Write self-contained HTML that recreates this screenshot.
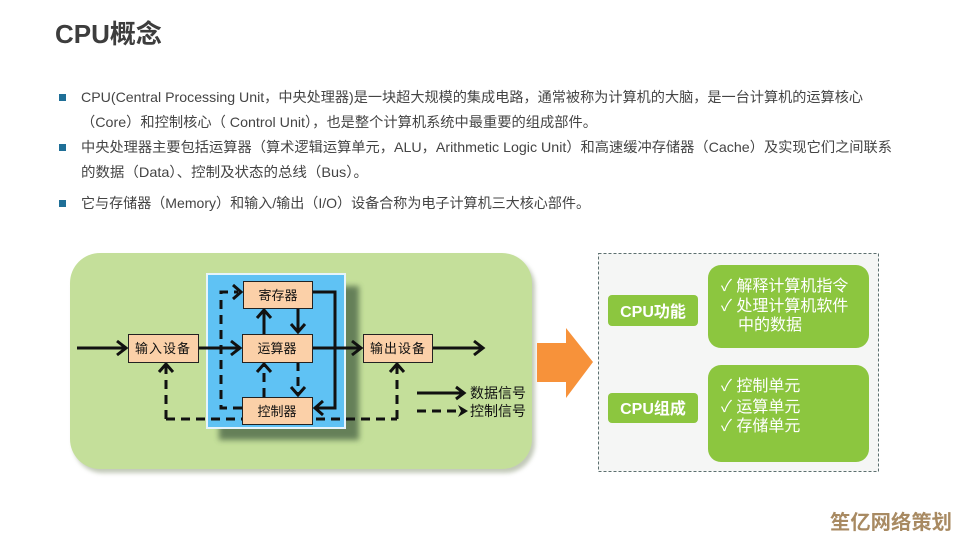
<!DOCTYPE html>
<html><head><meta charset="utf-8"><style>
html,body{margin:0;padding:0;background:#fff;}
svg{display:block;}
text{font-family:"Liberation Sans","Noto Sans CJK SC",sans-serif;}
</style></head><body>
<svg width="960" height="540" viewBox="0 0 960 540" xmlns="http://www.w3.org/2000/svg">
<defs>
<filter id="blur4" x="-20%" y="-20%" width="140%" height="140%"><feGaussianBlur stdDeviation="3"/></filter>
<filter id="blur2" x="-20%" y="-20%" width="140%" height="140%"><feGaussianBlur stdDeviation="2"/></filter>
</defs>
<rect width="960" height="540" fill="#fff"/>
<!-- Title -->
<text x="55" y="43" font-size="26" font-weight="bold" fill="#3d3d3d">CPU概念</text>
<!-- bullets -->
<rect x="59" y="94" width="7" height="7" fill="#1f6f97"/>
<rect x="59" y="144" width="7" height="7" fill="#1f6f97"/>
<rect x="59" y="200" width="7" height="7" fill="#1f6f97"/>
<g font-size="14" fill="#444">
<text x="81" y="102" textLength="782" lengthAdjust="spacingAndGlyphs">CPU(Central Processing Unit，中央处理器)是一块超大规模的集成电路，通常被称为计算机的大脑，是一台计算机的运算核心</text>
<text x="81" y="127" textLength="516" lengthAdjust="spacingAndGlyphs">（Core）和控制核心（ Control Unit），也是整个计算机系统中最重要的组成部件。</text>
<text x="81" y="152" textLength="811" lengthAdjust="spacingAndGlyphs">中央处理器主要包括运算器（算术逻辑运算单元，ALU，Arithmetic Logic Unit）和高速缓冲存储器（Cache）及实现它们之间联系</text>
<text x="81" y="177" textLength="287" lengthAdjust="spacingAndGlyphs">的数据（Data）、控制及状态的总线（Bus）。</text>
<text x="81" y="208" textLength="509" lengthAdjust="spacingAndGlyphs">它与存储器（Memory）和输入/输出（I/O）设备合称为电子计算机三大核心部件。</text>
</g>

<!-- green panel -->
<rect x="73" y="257" width="462" height="216" rx="30" fill="#9aa58a" opacity="0.6" filter="url(#blur2)"/>
<rect x="70" y="253" width="462" height="216" rx="30" fill="#c4df9a"/>

<!-- blue block shadow -->
<rect x="219" y="286" width="140" height="154" fill="#55704d" opacity="0.85" filter="url(#blur4)"/>
<rect x="207" y="274" width="138" height="154" fill="#5fc2f4" stroke="#e6f4fb" stroke-width="2"/>

<!-- connectors -->
<g stroke="#111" stroke-width="3" fill="none" stroke-linejoin="miter">
 <!-- main data line -->
 <line x1="77" y1="348" x2="126" y2="348"/>
 <polyline points="117,341 126,348 117,355"/>
 <line x1="198" y1="348" x2="240" y2="348"/>
 <polyline points="231,341 240,348 231,355"/>
 <line x1="312" y1="348" x2="361" y2="348"/>
 <polyline points="352,341 361,348 352,355"/>
 <line x1="432" y1="348" x2="483" y2="348"/>
 <polyline points="474,341 483,348 474,355"/>
 <!-- ALU <-> register -->
 <line x1="264" y1="334" x2="264" y2="310"/>
 <polyline points="257,318 264,310 271,318"/>
 <line x1="298" y1="308" x2="298" y2="332"/>
 <polyline points="291,324 298,332 305,324"/>
 <!-- right loop register -> controller -->
 <polyline points="312,292 335,292 335,408 315,408"/>
 <polyline points="323,401 315,408 323,415"/>
 <!-- dashed control -->
 <g stroke-dasharray="9,6">
  <line x1="264" y1="397" x2="264" y2="366"/>
  <line x1="298" y1="362" x2="298" y2="393"/>
  <polyline points="242,408 221,408 221,292 238,292"/>
  <line x1="166" y1="419" x2="397" y2="419"/>
  <line x1="166" y1="419" x2="166" y2="366"/>
  <line x1="397" y1="419" x2="397" y2="366"/>
  <line x1="417" y1="411" x2="462" y2="411"/>
 </g>
 <polyline points="257,372 264,364 271,372"/>
 <polyline points="291,387 298,395 305,387"/>
 <polyline points="233,285 241,292 233,299"/>
 <polyline points="159,372 166,364 173,372"/>
 <polyline points="390,372 397,364 404,372"/>
 <!-- legend solid -->
 <line x1="417" y1="393" x2="463" y2="393"/>
 <polyline points="456,387 464,393 456,399"/>
</g>
<polygon points="458,405 468,411 458,417 461,411" fill="#111"/>

<!-- boxes -->
<g fill="#fbd0a8" stroke="#222" stroke-width="1">
 <rect x="243.5" y="281.5" width="69" height="27"/>
 <rect x="242.5" y="334.5" width="70" height="28"/>
 <rect x="242.5" y="397.5" width="70" height="27"/>
 <rect x="128.5" y="334.5" width="70" height="28"/>
 <rect x="363.5" y="334.5" width="69" height="28"/>
</g>
<g font-size="13" fill="#111" text-anchor="middle">
 <text x="278" y="300">寄存器</text>
 <text x="277" y="353">运算器</text>
 <text x="277" y="416">控制器</text>
 <text x="163" y="353" letter-spacing="1">输入设备</text>
 <text x="398" y="353" letter-spacing="1">输出设备</text>
</g>
<g font-size="14" fill="#111">
 <text x="470" y="398">数据信号</text>
 <text x="470" y="416">控制信号</text>
</g>

<!-- orange arrow -->
<polygon points="537,343 566,343 566,328 593,362 566,398 566,382 537,382" fill="#f7923a"/>

<!-- right dashed panel -->
<rect x="598.5" y="253.5" width="280" height="218" fill="#f5f6f5" stroke="#5c6f6f" stroke-width="1" stroke-dasharray="3,2"/>
<rect x="608" y="295" width="90" height="31" rx="4" fill="#8cc63f"/>
<rect x="608" y="393" width="90" height="30" rx="4" fill="#8cc63f"/>
<g font-size="16" font-weight="bold" fill="#fff" text-anchor="middle">
 <text x="653" y="317">CPU功能</text>
 <text x="653" y="414">CPU组成</text>
</g>
<rect x="708" y="265" width="161" height="83" rx="13" fill="#8cc63f"/>
<rect x="708" y="365" width="161" height="97" rx="13" fill="#8cc63f"/>
<g font-size="16" fill="#fff">
 <text x="721" y="291">✓ 解释计算机指令</text>
 <text x="721" y="311">✓ 处理计算机软件</text>
 <text x="738" y="330">中的数据</text>
 <text x="721" y="391">✓ 控制单元</text>
 <text x="721" y="412">✓ 运算单元</text>
 <text x="721" y="431">✓ 存储单元</text>
</g>

<!-- watermark -->
<text x="830" y="529" font-size="20" font-weight="bold" fill="#a88a62" textLength="122" lengthAdjust="spacingAndGlyphs">笙亿网络策划</text>
</svg>
</body></html>
